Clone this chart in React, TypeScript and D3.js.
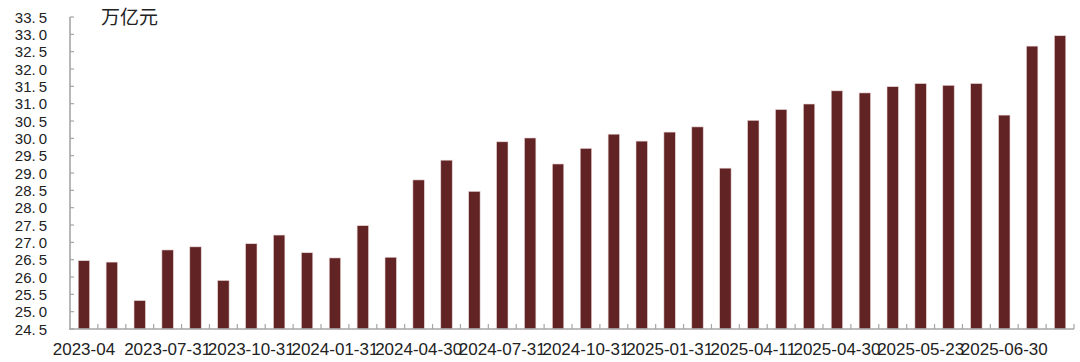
import React from "react";
import * as d3 from "d3";

const values: number[] = [
  26.47, 26.43, 25.32, 26.78, 26.87, 25.9, 26.96, 27.21, 26.7, 26.55, 27.48, 26.57,
  28.8, 29.37, 28.47, 29.9, 30.01, 29.26, 29.71, 30.12, 29.92, 30.18, 30.33, 29.14,
  30.52, 30.83, 30.99, 31.37, 31.31, 31.49, 31.58, 31.53, 31.58, 30.67, 32.66, 32.96,
];

const tickLabels: string[] = [
  "2023-04", "2023-07-31", "2023-10-31", "2024-01-31", "2024-04-30", "2024-07-31",
  "2024-10-31", "2025-01-31", "2025-04-11", "2025-04-30", "2025-05-23", "2025-06-30",
];
const labelEvery = 3;

const yTicks: number[] = [
  24.5, 25, 25.5, 26, 26.5, 27, 27.5, 28, 28.5, 29, 29.5, 30, 30.5, 31, 31.5, 32, 32.5, 33, 33.5,
];

const unit = "万亿元";

export default function App() {
  const W = 1080, H = 362;
  const left = 70, right = 1074, top = 17, bottom = 329;
  const idx = values.map((_, i) => i);
  const x = d3.scaleBand<number>().domain(idx).range([left, right]);
  const y = d3.scaleLinear().domain([24.5, 33.5]).range([bottom, top]);
  const bw = x.bandwidth();
  const barW = bw * 0.41;
  const axisColor = "#a6a6a6";
  const font = "'Liberation Sans', Arial, sans-serif";

  return (
    <svg width={W} height={H} style={{ position: "absolute", left: 0, top: 0, background: "#fff" }}>
      {values.map((v, i) => (
        <rect
          key={i}
          x={(x(i) as number) + bw / 2 - barW / 2}
          y={y(v)}
          width={barW}
          height={y(24.5) - y(v)}
          fill="#622325"
          stroke="#ead6d6"
          strokeWidth={0.6}
        />
      ))}
      {/* axes */}
      <line x1={left} x2={left} y1={top} y2={bottom} stroke={axisColor} strokeWidth={1.6} />
      <line x1={left - 1} x2={right} y1={bottom} y2={bottom} stroke={axisColor} strokeWidth={1.6} />
      {yTicks.map((t) => (
        <g key={t}>
          <line x1={left} x2={left + 4} y1={y(t)} y2={y(t)} stroke={axisColor} strokeWidth={1.2} />
          <text
            x={47}
            y={y(t)}
            dy="0.37em"
            textAnchor="end"
            fontFamily={font}
            fontSize={15}
            fill="#222"
          >
            {t.toFixed(1).split(".")[0] + "."}
            <tspan dx={3}>{t.toFixed(1).split(".")[1]}</tspan>
          </text>
        </g>
      ))}
      {idx.map((i) => (
        <line
          key={"xt" + i}
          x1={(x(i) as number) + bw}
          x2={(x(i) as number) + bw}
          y1={bottom}
          y2={bottom - 5}
          stroke={axisColor}
          strokeWidth={1.2}
        />
      ))}
      {tickLabels.map((lab, k) => {
        const i = k * labelEvery;
        return (
          <text
            key={lab}
            x={(x(i) as number) + bw / 2}
            y={355}
            textAnchor="middle"
            fontFamily={font}
            fontSize={17}
            fill="#222"
          >
            {lab}
          </text>
        );
      })}
      <text
        x={101}
        y={24}
        fontFamily="'Noto Sans CJK SC', sans-serif"
        fontSize={19}
        fill="#222"
      >
        {unit}
      </text>
    </svg>
  );
}
